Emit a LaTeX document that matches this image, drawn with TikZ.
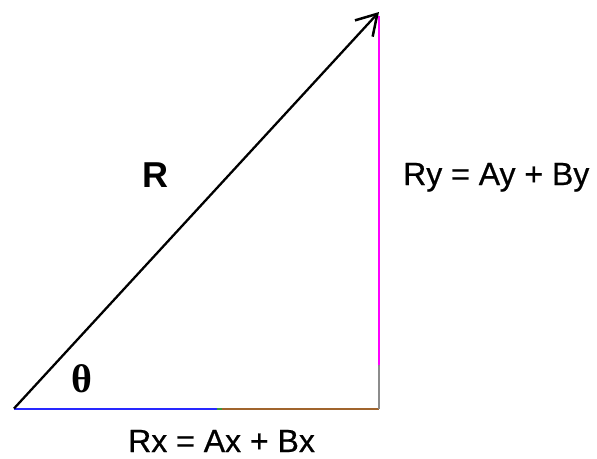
\documentclass[tikz,border=0pt]{standalone}
\usepackage{fontspec}
\setmainfont{Liberation Sans}
\newfontfamily\heavysans[FakeBold=0.6]{Liberation Sans}
\newfontfamily\serifbold{Liberation Serif}
\usetikzlibrary{arrows.meta}
\begin{document}
\begin{tikzpicture}[x=1pt,y=-1pt,
  seg/.style={line width=2pt},
  lbl/.style={inner sep=0pt, anchor=base west, font=\fontsize{32}{38}\selectfont\heavysans},
  vecarrow/.style={line width=2.3pt, -{Straight Barb[length=20pt,width=24pt,line width=2.5pt]}}]
\useasboundingbox (0,0) rectangle (597,458);
\definecolor{segblue}{RGB}{40,40,255}
\definecolor{seggreen}{RGB}{60,150,60}
\definecolor{segbrown}{RGB}{160,100,45}
\definecolor{seggray}{RGB}{140,140,140}
\definecolor{segmag}{RGB}{255,0,255}
\coordinate (O) at (14,408.5);
\coordinate (T) at (379,12);
\coordinate (C) at (378.5,408.5);
\coordinate (M) at (378.5,365);
\coordinate (V) at (378.5,16);
\coordinate (B1) at (217,408.5);
\coordinate (B2) at (222,408.5);
\draw[seg, segblue] (O) -- (B1);
\draw[seg, seggreen] (B1) -- (B2);
\draw[seg, segbrown] (B2) -- (C);
\draw[seg, seggray] (C) -- (M);
\draw[seg, segmag] (M) -- (V);
\draw[vecarrow] (O) -- (T);
\node[lbl] (rx) at (128,452) {Rx = Ax + Bx};
\node[lbl] (ry) at (403,185) {Ry = Ay + By};
\node[lbl, font=\fontsize{36}{40}\selectfont\bfseries] (r) at (142,187) {R};
\node[lbl, font=\fontsize{40}{44}\selectfont\serifbold\bfseries] (th) at (71,392) {θ};
\end{tikzpicture}
\end{document}
